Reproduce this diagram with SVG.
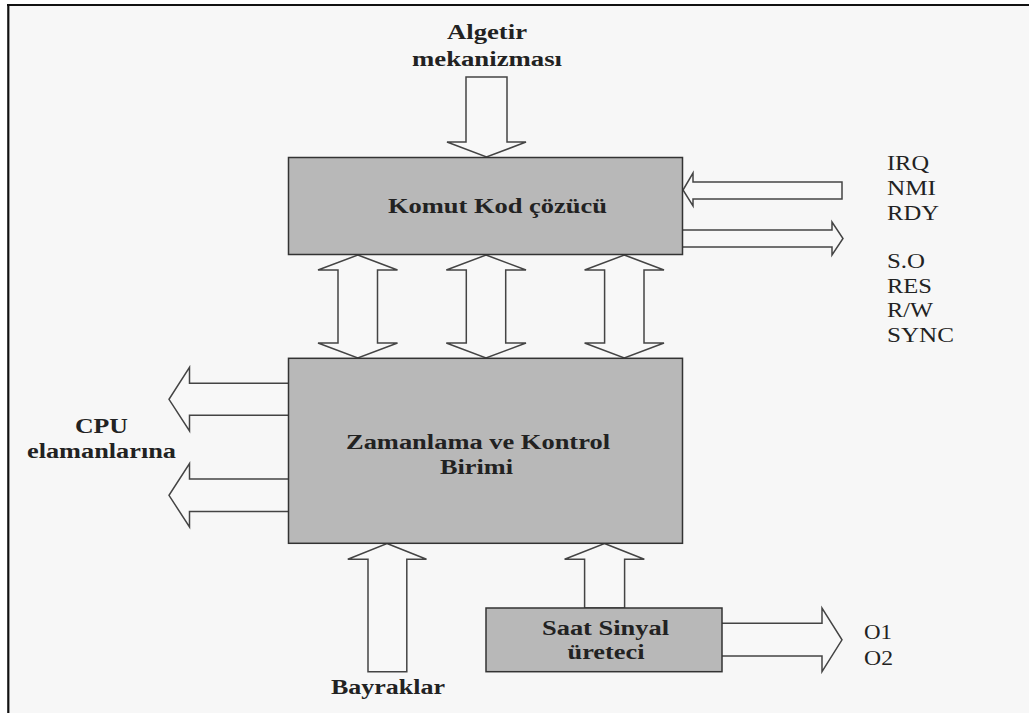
<svg xmlns="http://www.w3.org/2000/svg" width="1029" height="713" viewBox="0 0 1029 713">
  <style>
    .box { fill: #b8b8b8; stroke: #333; stroke-width: 1.5; }
    .arrow { fill: #f8f8f8; stroke: #444; stroke-width: 1.5; stroke-linejoin: miter; }
    .lbl { font-family: "Liberation Serif", "Times New Roman", serif; font-weight: bold; font-size: 20px; fill: #222; }
    .sig { font-family: "Liberation Serif", "Times New Roman", serif; font-size: 20px; fill: #222; }
  </style>

  <!-- page and frame -->
  <rect x="0" y="0" width="1029" height="713" fill="#ffffff"/>
  <rect x="8" y="5" width="1021" height="708" fill="#f7f7f7"/>
  <g id="frame" stroke="#111" stroke-width="2.2" fill="none">
    <line x1="7" y1="5" x2="1029" y2="5"/>
    <line x1="8.3" y1="4" x2="8.3" y2="713"/>
  </g>

  <!-- block arrows -->
  <g id="connectors" class="arrow">
    <!-- from top (Algetir mekanizmasi) -->
    <path d="M466,77 H507 V142 H526 L486.5,157 L447,142 H466 Z"/>
    <!-- signals into decoder -->
    <path d="M842,182 V199 H693 V206 L683,190 L693,173 V182 Z"/>
    <!-- signals out of decoder -->
    <path d="M683,230 H832 V222 L843,238.5 L832,255 V247 H683"/>
    <!-- bidirectional links between decoder and timing unit -->
    <path d="M357.8,255 L397.5,270 H377.5 V343 H397.5 L357.8,358 L318,343 H338 V270 H318 Z"/>
    <path d="M486,255 L526,270 H505.7 V343 H526 L486,358 L446.3,343 H466.3 V270 H446.3 Z"/>
    <path d="M624.3,255 L664,270 H644 V343 H664 L624.3,358 L584.6,343 H604.6 V270 H584.6 Z"/>
    <!-- outputs to CPU elements -->
    <path d="M288.5,383.3 H189.5 V367.4 L169,399.3 L189.5,431 V415.2 H288.5"/>
    <path d="M288.5,479 H189.5 V463.6 L169,495.3 L189.5,527 V511.6 H288.5"/>
    <!-- flags into timing unit -->
    <path d="M387,543.5 L426.5,559.3 H406.8 V671.7 H368 V559.3 H347.8 Z"/>
    <!-- clock into timing unit -->
    <path d="M604.5,543.5 L644.3,559.3 H624.6 V608 H584.6 V559.3 H564.6 Z"/>
    <!-- clock outputs -->
    <path d="M722,623.3 H822 V608 L842,639.8 L822,671.6 V656 H722"/>
  </g>

  <g id="decoder">
    <rect class="box" x="288.5" y="157.5" width="394" height="97"/>
    <text class="lbl" x="388" y="213" textLength="219" lengthAdjust="spacingAndGlyphs">Komut Kod çözücü</text>
  </g>

  <g id="timing-control">
    <rect class="box" x="288.5" y="358.3" width="394" height="185"/>
    <text class="lbl" x="346" y="449" textLength="264" lengthAdjust="spacingAndGlyphs">Zamanlama ve Kontrol</text>
    <text class="lbl" x="440" y="474" textLength="73" lengthAdjust="spacingAndGlyphs">Birimi</text>
  </g>

  <g id="clock-generator">
    <rect class="box" x="486" y="608" width="236" height="63.7"/>
    <text class="lbl" x="542" y="635" textLength="127" lengthAdjust="spacingAndGlyphs">Saat Sinyal</text>
    <text class="lbl" x="567.5" y="659" textLength="77" lengthAdjust="spacingAndGlyphs">üreteci</text>
  </g>

  <g id="interrupt-source">
    <text class="lbl" x="447" y="39" textLength="80" lengthAdjust="spacingAndGlyphs">Algetir</text>
    <text class="lbl" x="412" y="66" textLength="150" lengthAdjust="spacingAndGlyphs">mekanizması</text>
  </g>

  <g id="cpu-elements">
    <text class="lbl" x="75" y="433" textLength="53" lengthAdjust="spacingAndGlyphs">CPU</text>
    <text class="lbl" x="27" y="458" textLength="149" lengthAdjust="spacingAndGlyphs">elamanlarına</text>
  </g>

  <g id="flags">
    <text class="lbl" x="331" y="694" textLength="114" lengthAdjust="spacingAndGlyphs">Bayraklar</text>
  </g>

  <g id="control-signals">
    <text class="sig" x="887" y="170" textLength="42" lengthAdjust="spacingAndGlyphs">IRQ</text>
    <text class="sig" x="887" y="195" textLength="49" lengthAdjust="spacingAndGlyphs">NMI</text>
    <text class="sig" x="887" y="220" textLength="52" lengthAdjust="spacingAndGlyphs">RDY</text>
    <text class="sig" x="887" y="268" textLength="38" lengthAdjust="spacingAndGlyphs">S.O</text>
    <text class="sig" x="887" y="293" textLength="45" lengthAdjust="spacingAndGlyphs">RES</text>
    <text class="sig" x="887" y="317" textLength="46" lengthAdjust="spacingAndGlyphs">R/W</text>
    <text class="sig" x="887" y="342" textLength="67" lengthAdjust="spacingAndGlyphs">SYNC</text>
  </g>

  <g id="clock-phases">
    <text class="sig" x="864" y="639" textLength="28" lengthAdjust="spacingAndGlyphs">O1</text>
    <text class="sig" x="864" y="665" textLength="29" lengthAdjust="spacingAndGlyphs">O2</text>
  </g>
</svg>
